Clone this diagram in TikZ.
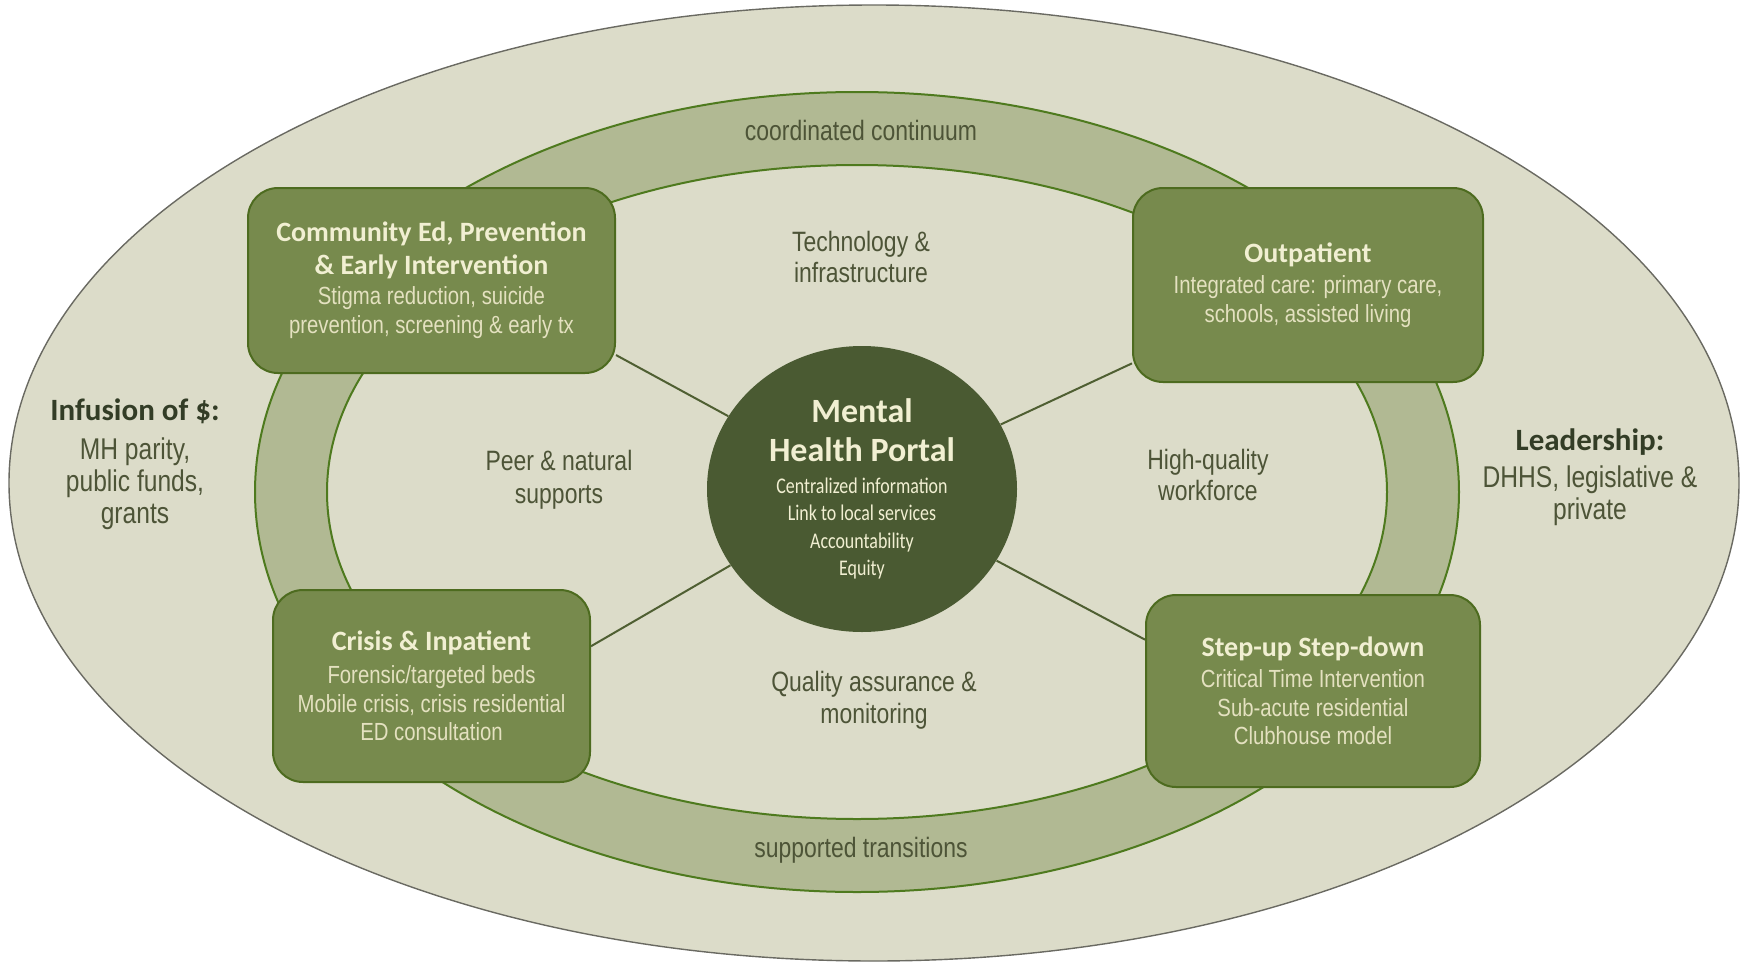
\documentclass[tikz,border=0pt]{standalone}
\usepackage{fontspec}
\setmainfont{Carlito}
\newfontfamily\condfont[FakeStretch=0.82]{Liberation Sans}
\newfontfamily\portalfont[FakeStretch=0.8]{Carlito}
\usepackage{tikz}
\usetikzlibrary{positioning,shapes.geometric}

\definecolor{paleback}{HTML}{DCDCC9}
\definecolor{edgegray}{HTML}{6A6A62}
\definecolor{ringfill}{HTML}{B1B993}
\definecolor{ringline}{HTML}{4E7A1E}
\definecolor{boxfill}{HTML}{778A4D}
\definecolor{boxline}{HTML}{4D6B1F}
\definecolor{portalfill}{HTML}{4A5A32}
\definecolor{linkcol}{HTML}{4F5F32}
\definecolor{creamtext}{HTML}{F1EFD2}
\definecolor{bodytext}{HTML}{E4E1C0}
\definecolor{areatext}{HTML}{4D5437}
\definecolor{sidehead}{HTML}{333D26}

\newcommand\boxtitle{\rmfamily\fontsize{14}{16.5}\selectfont\bfseries\color{creamtext}}
\newcommand\boxbody{\condfont\fontsize{12.4}{14.3}\selectfont}
\newcommand\portaltitle{\rmfamily\fontsize{17}{19}\selectfont\bfseries}
\newcommand\portalbody{\portalfont\fontsize{11.2}{13.7}\selectfont}
\newcommand\sidetitle{\rmfamily\fontsize{15.5}{17.5}\selectfont\bfseries\color{sidehead}}
\newcommand\sidebody{\condfont\fontsize{15}{16}\selectfont}

\begin{document}
\begin{tikzpicture}[x=0.5pt,y=-0.5pt,
	service/.style={draw=boxline, line width=1pt, fill=boxfill, rounded corners=15pt,
		align=center, inner sep=0pt, font=\boxbody, text=bodytext},
	area/.style={align=center, text=areatext, font=\condfont\fontsize{14}{15.5}\selectfont},
	side/.style={align=center, text=areatext, font=\sidebody},
	link/.style={draw=linkcol, line width=1pt}]
		\useasboundingbox (0,0) rectangle (1742,964);
		% outer field
		\filldraw[fill=paleback, draw=edgegray, line width=0.7pt] (874,483) ellipse [x radius=865, y radius=478];
		% continuum ring
		\filldraw[fill=ringfill, draw=ringline, line width=1pt, even odd rule]
			(857,492) ellipse [x radius=602, y radius=400]
			(857,492) ellipse [x radius=530, y radius=327];
		\node [area] (ringtop) at (861,130)	{coordinated continuum};
		\node [area] (ringbot) at (861,850)	{supported transitions};
		% services
		\node [service, minimum width=183.5pt, minimum height=92.5pt] (comm) at (431.5,280.5)
			{\boxtitle Community Ed, Prevention\\[2.2pt] \boxtitle \& Early Intervention\\[0.7pt] Stigma reduction, suicide\\ prevention, screening \& early tx};
		\node [service, minimum width=175pt, minimum height=97pt] (outpt) at (1308,285)
			{\boxtitle Outpatient\\[1.2pt] Integrated care: primary care,\\ schools, assisted living};
		\node [service, minimum width=158.5pt, minimum height=96pt] (crisis) at (431.5,686)
			{\boxtitle Crisis \& Inpatient\\[2.2pt] Forensic/targeted beds\\ Mobile crisis, crisis residential\\ ED consultation};
		\node [service, minimum width=167pt, minimum height=96pt] (stepud) at (1313,691)
			{\boxtitle Step-up Step-down\\[1.2pt] Critical Time Intervention\\ Sub-acute residential\\ Clubhouse model};
		% portal
		\node [ellipse, fill=portalfill, minimum width=155pt, minimum height=143pt, inner sep=0pt,
			align=center, text=creamtext, font=\portalbody] (portal) at (862,489)
			{\portaltitle Mental\\[5.5pt] \portaltitle Health Portal\\[2.3pt] Centralized information\\ Link to local services\\ Accountability\\ Equity};
		\draw [link] (portal) -- (comm.-22);
		\draw [link] (portal) -- (outpt.204);
		\draw [link] (portal) -- (crisis.14);
		\draw [link] (portal) -- (stepud.163);
		% inner areas
		\node [area] (tech) at (861,257)	{Technology \&\\ infrastructure};
		\node [area, font=\condfont\fontsize{14}{16.5}\selectfont] (peer) at (559,480)	{Peer \& natural\\ supports};
		\node [area] (work) at (1208,475)	{High-quality\\ workforce};
		\node [area, font=\condfont\fontsize{14}{16}\selectfont] (qual) at (874,700)	{Quality assurance \&\\ monitoring};
		% funding and leadership
		\node [side] (fund) at (135,464)	{\sidetitle Infusion of \$:\\[3.5pt] MH parity,\\ public funds,\\ grants};
		\node [side] (lead) at (1590,477)	{\sidetitle Leadership:\\[2.5pt] DHHS, legislative \&\\ private};
\end{tikzpicture}
\end{document}
